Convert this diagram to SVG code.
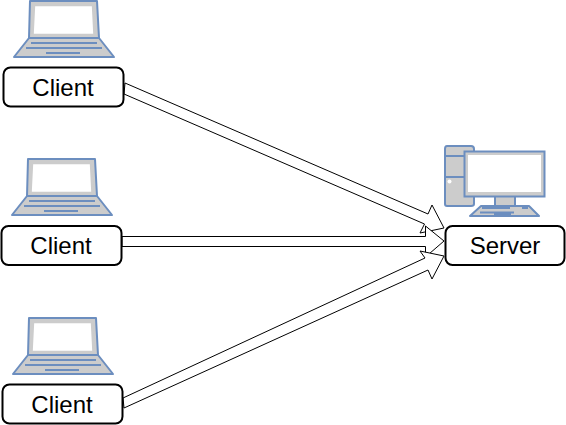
<svg xmlns="http://www.w3.org/2000/svg" width="566" height="425" viewBox="0 0 566 425">
<style>
.box{fill:#fff;stroke:#000;stroke-width:2}
.t{font-family:"Liberation Sans",Arial,sans-serif;font-size:24px;text-anchor:middle;fill:#000}
.arr{fill:#fff;stroke:#000;stroke-width:1;stroke-linejoin:miter}
.b{stroke:#6c8ebf;stroke-width:2;fill:#ccc;stroke-linejoin:round}
.l{stroke:#6c8ebf;stroke-width:2;fill:none}
</style>
<defs>
<g id="laptop">
<path class="b" d="M0 0H67L69 37H-1Z"/>
<path d="M4 4H63L64.500 34H2.500Z" fill="#fff" stroke="#ccc" stroke-width="2.500"/>
<path class="b" d="M-1 37H69L84 56H-16Z" stroke-width="1.500"/>
<path class="l" d="M1 42H67M-4 47H72M16 52H50"/>
</g>
</defs>
<g id="connectors">
<path class="arr" d="M125 83L428 214L432 205L444 228L420 233L424.500 224L124 94Z"/>
<path class="arr" d="M122 236.500H425.500V226L444 241L425.500 257V246.500H122Z"/>
<path class="arr" d="M123 398L425 258L420 251L444 256L432 279L428 270L124 408Z"/>
</g>
<g id="client1"><use href="#laptop" x="30" y="1"/><rect class="box" x="3.500" y="67.500" width="120" height="39" rx="7"/><text class="t" x="63" y="96">Client</text></g>
<g id="client2"><use href="#laptop" x="28" y="159"/><rect class="box" x="1.500" y="226" width="120" height="39" rx="7"/><text class="t" x="61" y="254">Client</text></g>
<g id="client3"><use href="#laptop" x="29" y="318"/><rect class="box" x="2.500" y="384.500" width="120" height="39" rx="7"/><text class="t" x="62" y="413">Client</text></g>
<g id="server">
<path class="b" d="M447 146H471Q474 146 474 149V204Q474 206 471 206H447Q445 206 445 204V149Q445 146 447 146Z"/>
<path class="l" d="M445 156H464M445 177H464"/>
<circle cx="449.500" cy="181.500" r="2" fill="#fff"/>
<rect x="495" y="196" width="20" height="10" class="b"/>
<path class="b" d="M481 206H529L539 216H470Z"/>
<path class="l" d="M482 208H510M522 208H528M480 212.500H514M494 214H511" stroke-width="1.500"/>
<rect x="464.500" y="151.500" width="80" height="45" fill="#ccc" stroke="#6c8ebf" stroke-width="2"/>
<rect x="468" y="155" width="73" height="37" fill="#fff"/>
<rect class="box" x="445.500" y="226" width="119" height="39" rx="7"/><text class="t" x="505" y="254">Server</text>
</g>
</svg>
